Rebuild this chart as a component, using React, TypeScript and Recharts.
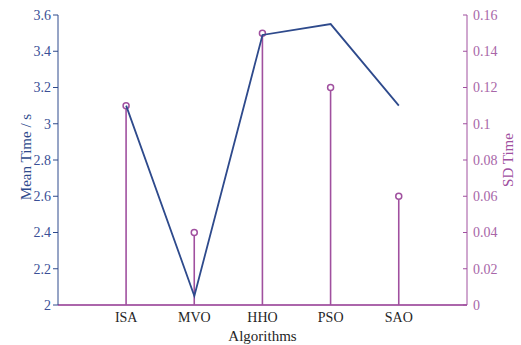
import { ComposedChart, Line, Bar, XAxis, YAxis, ReferenceLine } from "recharts";

const algorithms = ["ISA", "MVO", "HHO", "PSO", "SAO"];
const meanTime = [3.1, 2.05, 3.49, 3.55, 3.1];
const sdTime = [0.11, 0.04, 0.15, 0.12, 0.06];
const positions = [1, 2, 3, 4, 5];
const leftTicks = [2, 2.2, 2.4, 2.6, 2.8, 3, 3.2, 3.4, 3.6];
const rightTicks = [0, 0.02, 0.04, 0.06, 0.08, 0.1, 0.12, 0.14, 0.16];

const data = positions.map((p, i) => ({
  pos: p,
  name: algorithms[i],
  mean: meanTime[i],
  sd: sdTime[i],
}));

const BLUE = "#2e4a8c";
const PURPLE = "#a0509f";
const FONT = "Liberation Serif";

// stem: vertical line from baseline up to value, open circle on top
const StemShape = (props: any) => {
  const { x, y, width, height } = props;
  const cx = x + width / 2;
  return (
    <g>
      <line x1={cx} y1={y + 3} x2={cx} y2={y + height} stroke={PURPLE} strokeWidth={1.6} />
      <circle cx={cx} cy={y} r={3} fill="none" stroke={PURPLE} strokeWidth={1.5} />
    </g>
  );
};

export default function App() {
  return (
    <div style={{ position: "absolute", left: 0, top: 0, background: "#fff", fontFamily: FONT }}>
      <ComposedChart
        width={521}
        height={345}
        data={data}
        margin={{ top: 15, right: 0, bottom: 0, left: 0 }}
        style={{ fontFamily: FONT }}
      >
        <XAxis
          dataKey="pos"
          type="number"
          domain={[0, 6]}
          ticks={positions}
          tickFormatter={(v: number) => algorithms[v - 1] ?? ""}
          height={40}
          stroke={PURPLE}
          tickLine={false}
          tickSize={0}
          tickMargin={7}
          tick={{ fill: "#262626", fontSize: 14, fontFamily: FONT }}
          label={{ value: "Algorithms", position: "center", dy: 11, fill: "#262626", fontSize: 15, fontFamily: FONT }}
        />
        <XAxis
          xAxisId="top"
          dataKey="pos"
          type="number"
          orientation="top"
          domain={[0, 6]}
          ticks={positions}
          height={0}
          mirror
          tickSize={4}
          tickFormatter={() => ""}
          axisLine={{ stroke: "#8c8c8c" }}
          tickLine={{ stroke: "#262626" }}
        />
        <YAxis
          yAxisId="left"
          domain={[2, 3.6]}
          ticks={leftTicks}
          width={58}
          stroke={BLUE}
          tickSize={5}
          tickMargin={2}
          tick={{ fill: "#3a4f96", fontSize: 14, fontFamily: FONT }}
          label={{ value: "Mean Time / s", angle: -90, position: "center", dx: -3, dy: -3, fill: BLUE, fontSize: 15, fontFamily: FONT }}
        />
        <YAxis
          yAxisId="right"
          orientation="right"
          domain={[0, 0.16]}
          ticks={rightTicks}
          width={54}
          stroke={PURPLE}
          tickSize={-4}
          tickMargin={10}
          tick={{ fill: "#a866a8", fontSize: 14, fontFamily: FONT }}
          label={{ value: "SD Time", angle: -90, position: "center", dx: 13.5, fill: PURPLE, fontSize: 15, fontFamily: FONT }}
        />
        <ReferenceLine yAxisId="right" y={0} stroke={PURPLE} strokeWidth={1.6} />
        <Bar
          yAxisId="right"
          dataKey="sd"
          barSize={6}
          shape={<StemShape />}
          isAnimationActive={false}
        />
        <Line
          yAxisId="left"
          dataKey="mean"
          type="linear"
          stroke={BLUE}
          strokeWidth={1.8}
          dot={false}
          activeDot={false}
          isAnimationActive={false}
        />
      </ComposedChart>
    </div>
  );
}
